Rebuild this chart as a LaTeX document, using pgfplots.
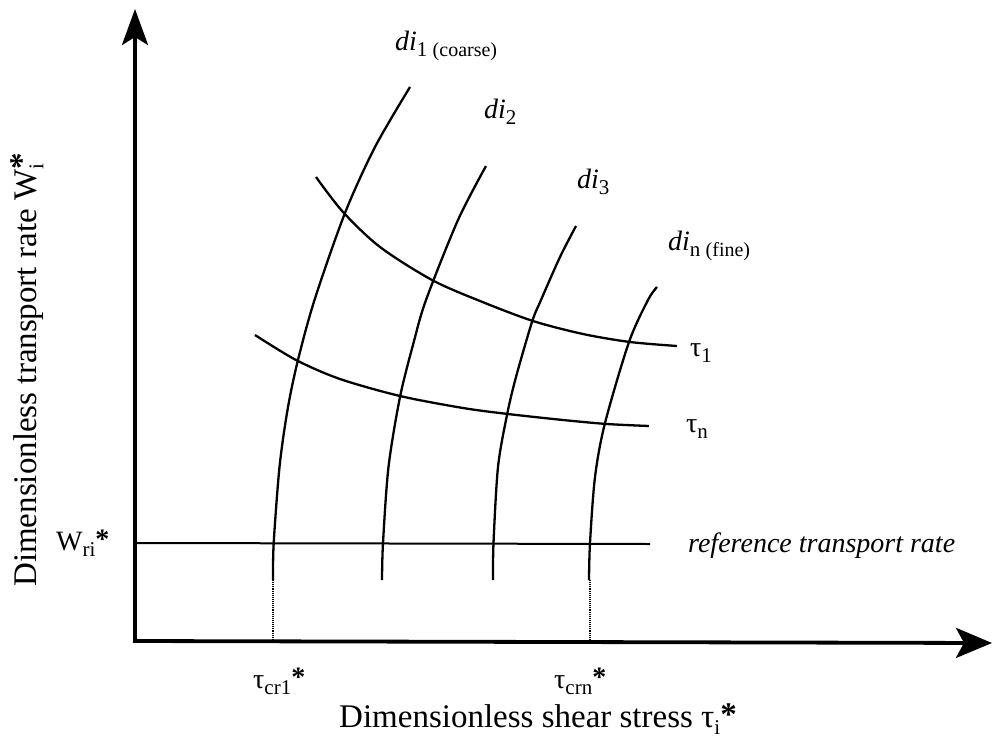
\documentclass[border=0pt]{standalone}
\usepackage{pgfplots}
\pgfplotsset{compat=1.18}
\usepackage{fontspec}
\setmainfont{Liberation Serif}
\usetikzlibrary{arrows.meta}

\newcommand{\fbig}{\fontsize{33}{38}\selectfont}
\newcommand{\fmid}{\fontsize{28}{32}\selectfont}
\newcommand{\fsub}{\fontsize{21}{24}\selectfont}
\newcommand{\fsmall}{\fontsize{20}{23}\selectfont}
\newcommand{\boldast}{\raisebox{0.05em}{\textbf{*}}}

\begin{document}
\begin{tikzpicture}
\begin{axis}[
  x=1pt, y=1pt,
  xmin=0, xmax=993, ymin=0, ymax=744,
  y dir=reverse,
  hide axis, clip=false, scale only axis,
  every axis plot/.append style={smooth, tension=0.5},
]
% coordinate axes
\addplot[black, line width=3.8pt, sharp plot, -{Stealth[length=36pt,width=26pt,inset=8pt]}]
  coordinates {(135,642) (135,9)};
\addplot[black, line width=3.8pt, sharp plot, -{Stealth[length=36pt,width=30pt,inset=8pt]}]
  coordinates {(133,641) (992,643)};

% reference transport rate
\addplot[black, line width=2pt, sharp plot] coordinates {(135,543) (650,544)};

% critical shear stress markers
\addplot[black, line width=1.1pt, densely dotted, sharp plot] coordinates {(273,580) (273,641)};
\addplot[black, line width=1.1pt, densely dotted, sharp plot] coordinates {(590,580) (590,642)};

% grain size curves
\addplot[black, line width=2.3pt] coordinates {
 (273,580) (273.7,543) (279.5,467) (287.5,410) (297.5,362) (314.5,300) (345,213) (375,147) (410,87)};
\addplot[black, line width=2.3pt] coordinates {
 (382,580) (383,543) (388.5,467) (400,397) (413.5,343) (426,300) (458,220) (486,166)};
\addplot[black, line width=2.3pt] coordinates {
 (493,580) (493.5,543) (498,467) (507,415) (516,377) (532,322) (541,300) (560,257) (576,226)};
\addplot[black, line width=2.3pt] coordinates {
 (589,580) (590,543) (595,477) (605,423) (629,342) (648,300) (657,287)};

% shear stress curves
\addplot[black, line width=2.3pt] coordinates {
 (316,177) (343,212) (380,247) (432,280) (480,301) (533,321) (583,334) (630,342) (677,346)};
\addplot[black, line width=2.3pt] coordinates {
 (255,335) (296,360) (340,379) (400,396) (463,408) (508,414) (563,420) (607,424) (649,426)};

% labels
\node[anchor=base west, inner sep=0pt] at (axis cs:395,50)
  {\fmid\textit{di}\raisebox{-0.22em}{\fsub 1 \fsmall(coarse)}};
\node[anchor=base west, inner sep=0pt] at (axis cs:484,118)
  {\fmid\textit{di}\raisebox{-0.22em}{\fsub 2}};
\node[anchor=base west, inner sep=0pt] at (axis cs:577,188)
  {\fmid\textit{di}\raisebox{-0.22em}{\fsub 3}};
\node[anchor=base west, inner sep=0pt] at (axis cs:668,250)
  {\fmid\textit{di}\raisebox{-0.22em}{\fsub n \fsmall(fine)}};
\node[anchor=base west, inner sep=0pt] at (axis cs:690,356)
  {\fmid τ\raisebox{-0.22em}{\fsub 1}};
\node[anchor=base west, inner sep=0pt] at (axis cs:686,432)
  {\fmid τ\raisebox{-0.22em}{\fsub n}};
\node[anchor=base west, inner sep=0pt] at (axis cs:688,552)
  {\fmid\textit{reference transport rate}};
\node[anchor=base west, inner sep=0pt] at (axis cs:56,550)
  {\fmid W\raisebox{-0.22em}{\fsub ri}\boldast};
\node[anchor=base west, inner sep=0pt] at (axis cs:253,688)
  {\fmid τ\raisebox{-0.22em}{\fsub cr1}\boldast};
\node[anchor=base west, inner sep=0pt] at (axis cs:554,688)
  {\fmid τ\raisebox{-0.22em}{\fsub crn}\boldast};
\node[anchor=base, inner sep=0pt] at (axis cs:538,727)
  {\fbig Dimensionless shear stress τ\raisebox{-0.22em}{\fsub i}\boldast};
\node[anchor=base, inner sep=0pt, rotate=90] at (axis cs:36,370)
  {\fbig Dimensionless transport rate W\rlap{\raisebox{-0.22em}{\fsub i}}\raisebox{0.1em}{\textbf{*}}};
\end{axis}
\pgfresetboundingbox
\path (current axis.south west) rectangle (current axis.north east);
\end{tikzpicture}
\end{document}
